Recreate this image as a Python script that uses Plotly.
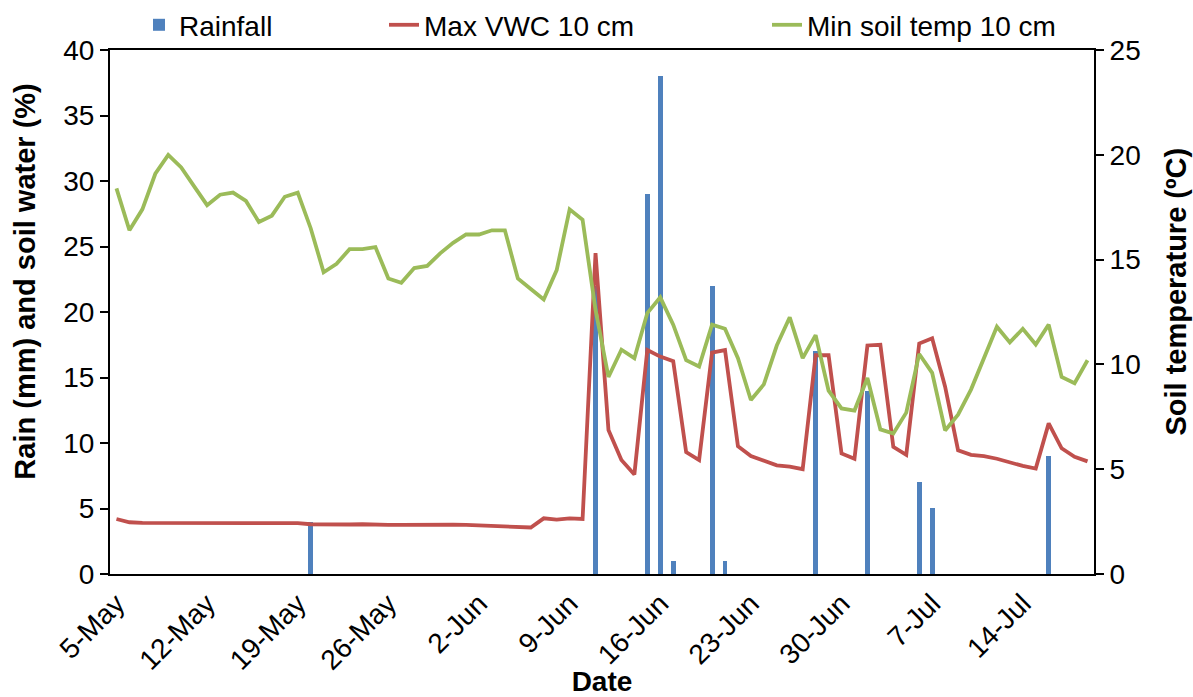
import pandas as pd
import plotly.graph_objects as go

# daily series, 5-May to 19-Jul
start_date = "2013-05-05"
end_date = "2013-07-19"

vwc = [4.2, 3.95, 3.9, 3.9, 3.92, 3.93, 3.93, 3.92, 3.9, 3.88, 3.9, 3.9, 3.9, 3.9, 3.88,
       3.8, 3.78, 3.78, 3.78, 3.8, 3.75, 3.75, 3.75, 3.77, 3.77, 3.77, 3.77, 3.75, 3.72,
       3.7, 3.65, 3.6, 3.55, 4.25, 4.15, 4.25, 4.2,
       24.5, 11.0, 8.7, 7.6, 17.1, 16.6, 16.25, 9.3, 8.7, 16.9, 17.1, 9.75, 9.0, 8.65,
       8.3, 8.2, 8.0, 16.7, 16.7, 9.2, 8.8, 17.45, 17.5, 9.7, 9.1, 17.6, 18.0, 14.3,
       9.45, 9.1, 9.0, 8.8, 8.5, 8.25, 8.05, 11.5, 9.6, 8.95, 8.6]

soil_temp = [18.4, 16.4, 17.4, 19.1, 20.0, 19.4, 18.5, 17.6, 18.1, 18.2, 17.8, 16.8, 17.1,
             18.0, 18.2, 16.5, 14.4, 14.8, 15.5, 15.5, 15.6, 14.1, 13.9, 14.6, 14.7, 15.3,
             15.8, 16.2, 16.2, 16.4, 16.4, 14.1, 13.6, 13.1, 14.5, 17.4, 16.9,
             12.6, 9.4, 10.7, 10.3, 12.45, 13.2, 11.9, 10.2, 9.9, 11.9, 11.7, 10.3, 8.3,
             9.05, 10.9, 12.25, 10.3, 11.4, 8.75, 7.9, 7.8, 9.35, 6.9, 6.7, 7.7, 10.5, 9.6,
             6.85, 7.6, 8.8, 10.35, 11.8, 11.05, 11.7, 10.95, 11.9, 9.4, 9.1, 10.2]

rain_dates = ["2013-05-20", "2013-06-11", "2013-06-15", "2013-06-16", "2013-06-17",
              "2013-06-20", "2013-06-21", "2013-06-28", "2013-07-02", "2013-07-06",
              "2013-07-07", "2013-07-16"]
rain_mm = [4, 22, 29, 38, 1, 22, 1, 17, 14, 7, 5, 9]

dates = pd.date_range(start_date, end_date, freq="D")
day_ms = 86400000

BLUE = "#4F81BD"
RED = "#C0504D"
GREEN = "#9BBB59"
FONT = "Liberation Sans, Arial, sans-serif"

fig = go.Figure()
fig.add_trace(go.Bar(x=pd.to_datetime(rain_dates), y=rain_mm, name="Rainfall",
                     marker=dict(color=BLUE, line=dict(width=0)), width=0.38 * day_ms,
                     legend="legend"))
fig.add_trace(go.Scatter(x=dates, y=vwc, name="Max VWC 10 cm", mode="lines",
                         line=dict(color=RED, width=3.8), legend="legend2"))
fig.add_trace(go.Scatter(x=dates, y=soil_temp, name="Min soil temp 10 cm", mode="lines",
                         line=dict(color=GREEN, width=3.8), yaxis="y2", legend="legend3"))

legend_common = dict(orientation="h", xref="container", yref="container",
                     y=0.964, yanchor="middle", xanchor="left",
                     font=dict(family=FONT, size=28, color="black"),
                     bgcolor="rgba(0,0,0,0)", borderwidth=0)

# axis titles as annotations (Excel places them a bit above the plot centre)
title_font = dict(family=FONT, size=29, color="black")
fig.add_annotation(text="<b>Rain (mm) and soil water (%)</b>", textangle=-90,
                   xref="paper", yref="paper", x=-0.0864, y=0.558,
                   xanchor="center", yanchor="middle", showarrow=False, font=title_font)
fig.add_annotation(text="<b>Soil temperature (ºC)</b>", textangle=-90,
                   xref="paper", yref="paper", x=1.0833, y=0.539,
                   xanchor="center", yanchor="middle", showarrow=False, font=title_font)

fig.update_layout(
    width=1193, height=697,
    margin=dict(l=110, r=99, t=49, b=123),
    plot_bgcolor="white", paper_bgcolor="white",
    font=dict(family=FONT, size=28, color="black"),
    showlegend=True,
    bargap=0,
    legend=dict(x=0.1165, **legend_common),
    legend2=dict(x=0.3219, **legend_common),
    legend3=dict(x=0.6429, **legend_common),
    xaxis=dict(
        type="date", automargin=False,
        range=[dates[0] - pd.Timedelta(hours=12), dates[-1] + pd.Timedelta(hours=12)],
        tick0=dates[0], dtick=7 * day_ms, tickformat="%-d-%b", tickangle=-45,
        tickfont=dict(size=28),
        showgrid=False, showline=True, linecolor="black", linewidth=2, mirror=True,
        ticks="", zeroline=False,
        title=dict(text="<b>Date</b>", font=dict(size=28), standoff=0),
    ),
    yaxis=dict(
        range=[0, 40], dtick=5, showgrid=False, zeroline=False, automargin=False,
        showline=True, linecolor="black", linewidth=2,
        ticks="outside", ticklen=8, tickwidth=2, tickcolor="black",
        tickfont=dict(size=28),
    ),
    yaxis2=dict(
        range=[0, 25], dtick=5, overlaying="y", side="right", showgrid=False, zeroline=False,
        automargin=False,
        showline=True, linecolor="black", linewidth=2,
        ticks="outside", ticklen=8, tickwidth=2, tickcolor="black",
        tickfont=dict(size=28),
    ),
)

fig.write_html("out.html", config={"displayModeBar": False},
               post_script="document.body.style.margin='0';")
